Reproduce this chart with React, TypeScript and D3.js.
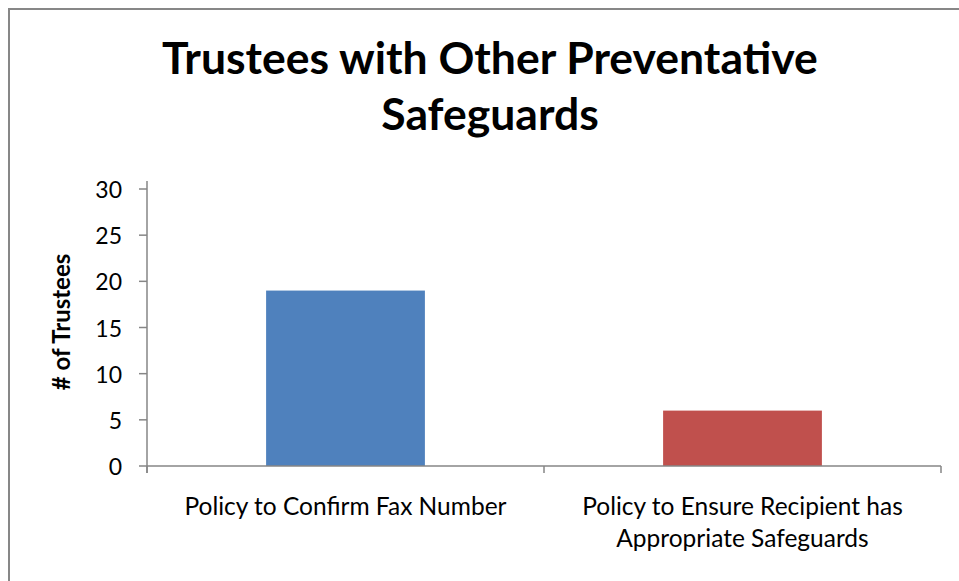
import React from "react";
import * as d3 from "d3";

const categories: string[][] = [
  ["Policy to Confirm Fax Number"],
  ["Policy to Ensure Recipient has", "Appropriate Safeguards"],
];
const values: number[] = [19, 6];
const barColors: string[] = ["#4F81BD", "#C0504D"];
const yTicks: number[] = [0, 5, 10, 15, 20, 25, 30];
const titleLines: string[] = ["Trustees with Other Preventative", "Safeguards"];
const yAxisTitle = "# of Trustees";

const W = 959;
const H = 581;
const FONT = "Lato, 'Open Sans', sans-serif";
const AXIS = "#868686";

export default function App() {
  const left = 147;
  const right = 941;
  const y0 = 466;
  const yTop = 189;
  const x = d3
    .scaleBand<number>()
    .domain(categories.map((_, i) => i))
    .range([left, right])
    .paddingInner(0.6)
    .paddingOuter(0.3);
  const y = d3.scaleLinear().domain([0, 30]).range([y0, yTop]);
  const step = x.step();
  const boundaries = d3.range(categories.length + 1).map((i) => left + i * step);

  return (
    <svg
      width={W}
      height={H}
      style={{ position: "absolute", left: 0, top: 0, background: "#fff" }}
    >
      <rect x={0} y={0} width={W} height={H} fill="#fff" />
      <rect x={9} y={9} width={W + 20} height={H + 20} fill="none" stroke="#878787" strokeWidth={2} />
      {titleLines.map((t, i) => (
        <text
          key={i}
          x={490}
          y={74 + i * 56}
          textAnchor="middle"
          fontFamily={FONT}
          fontWeight="bold"
          fontSize={44.5}
          fill="#000"
        >
          {t}
        </text>
      ))}
      {values.map((v, i) => (
        <rect
          key={i}
          x={x(i)!}
          y={y(v)}
          width={x.bandwidth()}
          height={y0 - y(v)}
          fill={barColors[i]}
        />
      ))}
      <line x1={left} x2={left} y1={181} y2={y0 + 7} stroke={AXIS} strokeWidth={1.5} />
      {yTicks.map((t) => (
        <g key={t}>
          <line x1={left - 8} x2={left} y1={y(t)} y2={y(t)} stroke={AXIS} strokeWidth={1.5} />
          <text
            x={122}
            y={y(t)}
            textAnchor="end"
            dominantBaseline="central"
            fontFamily={FONT}
            fontSize={23}
            fill="#000"
          >
            {t}
          </text>
        </g>
      ))}
      <line x1={left} x2={right} y1={y0} y2={y0} stroke={AXIS} strokeWidth={1.5} />
      {boundaries.map((bx, i) => (
        <line key={i} x1={bx} x2={bx} y1={y0} y2={y0 + 7} stroke={AXIS} strokeWidth={1.5} />
      ))}
      {categories.map((lines, i) =>
        lines.map((ln, j) => (
          <text
            key={i + "-" + j}
            x={x(i)! + x.bandwidth() / 2}
            y={515 + j * 32}
            textAnchor="middle"
            fontFamily={FONT}
            fontSize={24.5}
            fill="#000"
          >
            {ln}
          </text>
        ))
      )}
      <text
        transform={`translate(70, 322) rotate(-90)`}
        textAnchor="middle"
        fontFamily={FONT}
        fontWeight="bold"
        fontSize={24}
        fill="#000"
      >
        {yAxisTitle}
      </text>
    </svg>
  );
}
